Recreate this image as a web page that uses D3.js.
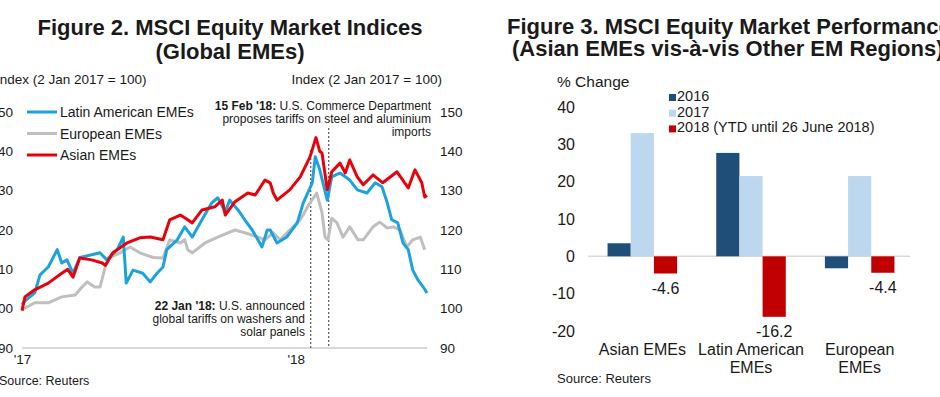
<!DOCTYPE html>
<html lang="en">
<head>
<meta charset="UTF-8">
<title>MSCI Equity Market</title>
<style>
body { margin: 0; background: #fff; }
svg { display: block; }
text { font-family: Arial, "Liberation Sans", sans-serif; fill: #1a1a1a; }
</style>
</head>
<body>
<script src="https://cdnjs.cloudflare.com/ajax/libs/d3/7.8.5/d3.min.js"></script>
<script>
// ---- Figure 2: index levels (days after 2 Jan 2017, value)
var startDate = new Date(2017, 0, 2);
var endDate = new Date(2018, 5, 26);

var latamDays = [0, 4, 17, 24, 35, 47, 53, 60, 68, 77, 93, 104, 113, 127, 135, 139, 148, 161, 171, 180, 188, 193, 207, 217, 227, 240, 253, 261, 271, 277, 288, 297, 307, 320, 327, 331, 340, 353, 367, 375, 387, 391, 397, 407, 413, 424, 437, 447, 460, 471, 480, 487, 493, 501, 508, 515, 521, 528, 535, 540];
var latamVals = [101, 102, 104, 108.6, 110.6, 115, 111.6, 112.4, 109, 113, 113.7, 114.2, 112.4, 115, 118.2, 106.5, 109.8, 109, 106.8, 109, 110.6, 115, 117.5, 120.8, 118.2, 122.6, 126.9, 128.2, 124.6, 127.6, 125.1, 122.6, 120, 115.7, 120, 120, 116.7, 118.2, 121.8, 126.9, 132, 138.6, 135.3, 127.6, 133.5, 134.5, 132.7, 130.2, 129.4, 132, 131, 126.9, 122.6, 121.8, 116.7, 115, 109.8, 107.3, 105.5, 104];

var europeDays = [0, 17, 35, 53, 71, 80, 87, 97, 104, 111, 117, 131, 144, 157, 175, 188, 197, 211, 217, 221, 227, 244, 261, 284, 297, 315, 324, 335, 344, 357, 371, 384, 393, 400, 404, 408, 413, 420, 428, 437, 448, 455, 468, 477, 487, 495, 504, 513, 521, 531, 537];
var europeVals = [99.7, 101.5, 101.5, 103, 103.5, 105.5, 106.8, 105.5, 105.5, 110.6, 113, 114.2, 115.7, 114.2, 113, 112.9, 117.5, 116.7, 117.5, 115, 114.2, 116.7, 118.2, 120, 119.3, 118.2, 117.5, 119.3, 117.5, 120, 122.6, 126.9, 129.4, 124.4, 118.2, 117.5, 123, 121.8, 118.2, 120.8, 117.5, 117.5, 120.8, 122, 120.5, 120.8, 120, 115.7, 117.5, 118.2, 115];

var asiaDays = [0, 4, 11, 17, 35, 53, 61, 68, 77, 93, 107, 111, 121, 140, 157, 171, 188, 197, 211, 221, 227, 240, 257, 267, 271, 284, 301, 311, 324, 331, 335, 340, 357, 371, 384, 392, 397, 400, 407, 413, 424, 431, 437, 447, 455, 468, 481, 500, 515, 524, 533, 537, 540];
var asiaVals = [99.5, 103, 104, 104.8, 106.5, 109, 110, 108, 112.9, 112.4, 111.6, 111, 114.2, 116.7, 118, 118.2, 117.5, 122.6, 123.8, 122.6, 121.8, 125.1, 125.9, 127.6, 123.8, 127.2, 129.4, 128.9, 132.7, 132, 129.4, 127.6, 130.2, 133.5, 138.6, 143.5, 140, 139.6, 130.2, 134.8, 137, 134.5, 137.8, 133.5, 131.5, 134, 132, 134.8, 130.7, 135.3, 132, 128.4, 128.8];

var lineNames = ['Latin American EMEs', 'European EMEs', 'Asian EMEs'];
var lineColors = ['#1ca3de', '#bfbfbf', '#e8000b'];
var indexTicks = [90, 100, 110, 120, 130, 140, 150];
var yearTickDates = [new Date(2017, 0, 2), new Date(2018, 0, 2)];
var yearTickLabels = ["'17", "'18"];
var eventDates = [new Date(2018, 0, 22), new Date(2018, 1, 15)];

// ---- Figure 3: % change by region
var regions = ['Asian EMEs', 'Latin American EMEs', 'European EMEs'];
var regionLines = [['Asian EMEs'], ['Latin American', 'EMEs'], ['European', 'EMEs']];
var perfYears = ['2016', '2017', '2018 (YTD until 26 June 2018)'];
var perf2016 = [3.5, 27.7, -3.2];
var perf2017 = [33.0, 21.5, 21.5];
var perf2018 = [-4.6, -16.2, -4.4];
var perfColors = ['#1f4e79', '#bdd7ee', '#c00000'];
var perfTicks = [-20, -10, 0, 10, 20, 30, 40];

var svg = d3.select('body').append('svg')
    .attr('width', 940)
    .attr('height', 397);

// plain hyphen for negatives, like the original
function plain(d) { return String(d); }

// ================= Figure 2 =================
var left = svg.append('g');

left.append('text')
    .attr('x', 230).attr('y', 35)
    .attr('text-anchor', 'middle')
    .style('font-size', '22px').style('font-weight', 'bold')
    .text('Figure 2. MSCI Equity Market Indices');
left.append('text')
    .attr('x', 230).attr('y', 59)
    .attr('text-anchor', 'middle')
    .style('font-size', '22px').style('font-weight', 'bold')
    .text('(Global EMEs)');

left.append('text')
    .attr('x', -4).attr('y', 84)
    .style('font-size', '13.5px')
    .text('Index (2 Jan 2017 = 100)');
left.append('text')
    .attr('x', 442).attr('y', 84)
    .attr('text-anchor', 'end')
    .style('font-size', '13.5px')
    .text('Index (2 Jan 2017 = 100)');

var x = d3.scaleTime().domain([startDate, endDate]).range([22, 427]);
var y = d3.scaleLinear().domain([90, 150]).range([348, 112]);

var yLeft = left.append('g')
    .attr('transform', 'translate(13,0)')
    .call(d3.axisLeft(y).tickValues(indexTicks).tickSize(0).tickPadding(0).tickFormat(plain));
var yRight = left.append('g')
    .attr('transform', 'translate(440,0)')
    .call(d3.axisRight(y).tickValues(indexTicks).tickSize(0).tickPadding(0).tickFormat(plain));
[yLeft, yRight].forEach(function(g) {
    g.select('.domain').remove();
    g.selectAll('text').style('font-size', '13.5px').style('font-family', null).attr('fill', '#1a1a1a');
});

var xAxis = left.append('g')
    .attr('transform', 'translate(0,348)')
    .call(d3.axisBottom(x).tickValues(yearTickDates).tickSize(0).tickPadding(6)
        .tickFormat(function(d, i) { return yearTickLabels[i]; }));
xAxis.select('.domain').remove();
xAxis.selectAll('text').style('font-size', '13.5px').style('font-family', null).attr('fill', '#1a1a1a');

// baseline
left.append('line')
    .attr('x1', x(startDate)).attr('x2', x(endDate))
    .attr('y1', y(90)).attr('y2', y(90))
    .attr('stroke', '#d9d9d9').attr('stroke-width', 2);

// event markers
left.selectAll('.event')
    .data(eventDates)
    .enter()
    .append('line')
    .attr('class', 'event')
    .attr('x1', function(d) { return x(d); })
    .attr('x2', function(d) { return x(d); })
    .attr('y1', function(d, i) { return i === 0 ? 150 : 128; })
    .attr('y2', y(90))
    .attr('stroke', '#333')
    .attr('stroke-width', 1)
    .attr('stroke-dasharray', '2,2');

function toPoints(days, vals) {
    return days.map(function(d, i) {
        return { date: d3.timeDay.offset(startDate, d), value: vals[i] };
    });
}
var series = [
    toPoints(europeDays, europeVals),
    toPoints(latamDays, latamVals),
    toPoints(asiaDays, asiaVals)
];
var seriesColors = [lineColors[1], lineColors[0], lineColors[2]];

var line = d3.line()
    .x(function(d) { return x(d.date); })
    .y(function(d) { return y(d.value); });

left.selectAll('.series')
    .data(series)
    .enter()
    .append('path')
    .attr('class', 'series')
    .attr('d', line)
    .attr('fill', 'none')
    .attr('stroke', function(d, i) { return seriesColors[i]; })
    .attr('stroke-width', 3)
    .attr('stroke-linejoin', 'round');

// legend
var leg = left.selectAll('.leg')
    .data(lineNames)
    .enter()
    .append('g')
    .attr('class', 'leg')
    .attr('transform', function(d, i) { return 'translate(27,' + (112 + i * 21.5) + ')'; });
leg.append('line')
    .attr('x1', 0).attr('x2', 30)
    .attr('stroke', function(d, i) { return lineColors[i]; })
    .attr('stroke-width', 3);
leg.append('text')
    .attr('x', 33).attr('y', 5)
    .style('font-size', '14px')
    .text(function(d) { return d; });

// annotations
function note(lines, xr, y0) {
    lines.forEach(function(l, i) {
        var t = left.append('text')
            .attr('x', xr).attr('y', y0 + i * 12.8)
            .attr('text-anchor', 'end')
            .style('font-size', '12px');
        if (l[0]) t.append('tspan').style('font-weight', 'bold').text(l[0]);
        t.append('tspan').text(l[1]);
    });
}
note([["15 Feb '18:", ' U.S. Commerce Department'], ['', 'proposes tariffs on steel and aluminium'], ['', 'imports']], 431, 110);
note([["22 Jan '18:", ' U.S. announced'], ['', 'global tariffs on washers and'], ['', 'solar panels']], 305, 310);

left.append('text')
    .attr('x', -1).attr('y', 385)
    .style('font-size', '12.5px')
    .text('Source: Reuters');

// ================= Figure 3 =================
var right = svg.append('g');

right.append('text')
    .attr('x', 507).attr('y', 34)
    .style('font-size', '22px').style('font-weight', 'bold')
    .text('Figure 3. MSCI Equity Market Performance');
right.append('text')
    .attr('x', 512).attr('y', 56)
    .style('font-size', '22px').style('font-weight', 'bold')
    .text('(Asian EMEs vis-à-vis Other EM Regions)');

right.append('text')
    .attr('x', 557).attr('y', 87)
    .style('font-size', '15.5px')
    .text('% Change');

var x0 = d3.scaleBand().domain(regions).range([588, 914]).paddingInner(0.36).paddingOuter(0.18);
var x1 = d3.scaleBand().domain(perfYears).range([0, x0.bandwidth()]);
var yb = d3.scaleLinear().domain([-20, 40]).range([331, 107]);

var yAx = right.append('g')
    .attr('transform', 'translate(575,0)')
    .call(d3.axisLeft(yb).tickValues(perfTicks).tickSize(0).tickPadding(0).tickFormat(plain));
yAx.select('.domain').remove();
yAx.selectAll('text').style('font-size', '16px').style('font-family', null).attr('fill', '#1a1a1a');

right.append('line')
    .attr('x1', 588).attr('x2', 910)
    .attr('y1', yb(0)).attr('y2', yb(0))
    .attr('stroke', '#d9d9d9').attr('stroke-width', 1.5);

var perfSeries = [perf2016, perf2017, perf2018];
var groups = right.selectAll('.grp')
    .data(regions)
    .enter()
    .append('g')
    .attr('class', 'grp')
    .attr('transform', function(d) { return 'translate(' + x0(d) + ',0)'; });

groups.selectAll('rect')
    .data(function(d, i) {
        return perfSeries.map(function(s, j) { return { year: perfYears[j], value: s[i], k: j }; });
    })
    .enter()
    .append('rect')
    .attr('x', function(d) { return x1(d.year); })
    .attr('width', x1.bandwidth())
    .attr('y', function(d) { return yb(Math.max(0, d.value)); })
    .attr('height', function(d) { return Math.abs(yb(d.value) - yb(0)); })
    .attr('fill', function(d) { return perfColors[d.k]; });

// labels for 2018 values
groups.append('text')
    .attr('x', function(d, i) { return x1(perfYears[2]) + x1.bandwidth() / 2; })
    .attr('y', function(d, i) { return yb(perf2018[i]) + 20; })
    .attr('text-anchor', 'middle')
    .style('font-size', '16px')
    .text(function(d, i) { return perf2018[i].toFixed(1); });

// category labels
groups.each(function(d, i) {
    var g = d3.select(this);
    regionLines[i].forEach(function(l, k) {
        g.append('text')
            .attr('x', x0.bandwidth() / 2)
            .attr('y', 355 + k * 18)
            .attr('text-anchor', 'middle')
            .style('font-size', '16px')
            .text(l);
    });
});

// legend
var pleg = right.selectAll('.pleg')
    .data(perfYears)
    .enter()
    .append('g')
    .attr('class', 'pleg')
    .attr('transform', function(d, i) { return 'translate(669,' + (101 + i * 15.7) + ')'; });
pleg.append('rect')
    .attr('x', 0).attr('y', -7)
    .attr('width', 7).attr('height', 7)
    .attr('fill', function(d, i) { return perfColors[i]; });
pleg.append('text')
    .attr('x', 8).attr('y', 0)
    .style('font-size', '14.5px')
    .text(function(d) { return d; });

right.append('text')
    .attr('x', 557).attr('y', 383)
    .style('font-size', '13px')
    .text('Source: Reuters');
</script>
</body>
</html>
